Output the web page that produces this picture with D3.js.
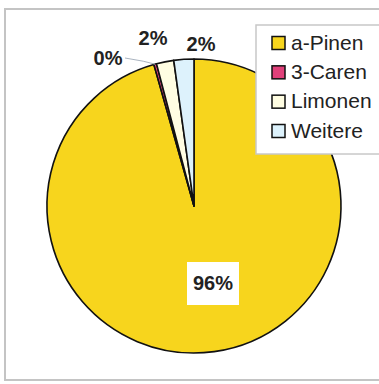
<!DOCTYPE html>
<html>
<head>
<meta charset="utf-8">
<script src="https://cdn.jsdelivr.net/npm/d3@7"></script>
<style>
  html, body { margin: 0; padding: 0; background: #fff; }
  svg { display: block; }
</style>
</head>
<body>
<svg id="chart" width="379" height="384"></svg>
<script>
// Zusammensetzung (Anteile in %)
const categories = ["a-Pinen", "3-Caren", "Limonen", "Weitere"];
const values = [95.6, 0.3, 1.9, 2.2];
const colors = ["#F7D51D", "#E0407A", "#FFFDE2", "#DDF2FC"];

const svg = d3.select("#chart");
const font = "'Liberation Sans', Arial, sans-serif";

// Outer chart frame
svg.append("rect")
  .attr("x", 5).attr("y", 9)
  .attr("width", 380).attr("height", 371)
  .attr("fill", "#fff")
  .attr("stroke", "#c4c4c4").attr("stroke-width", 2);

const cx = 194, cy = 206, r = 147;
const total = d3.sum(values);

// Slices start at 12 o'clock and run clockwise
const pie = d3.pie().sort(null).value(d => d)
  .startAngle(0).endAngle(2 * Math.PI);
const arcs = pie(values);
const arc = d3.arc().innerRadius(0).outerRadius(r);

const g = svg.append("g").attr("transform", `translate(${cx},${cy})`);
g.selectAll("path.slice")
  .data(arcs)
  .join("path")
  .attr("class", "slice")
  .attr("d", arc)
  .attr("fill", (d, i) => colors[i])
  .attr("stroke", "#111")
  .attr("stroke-width", 1.6)
  .attr("stroke-linejoin", "round");

const pct = v => Math.round(v / total * 100) + "%";

// Label of the large slice inside, on a white box
const bigLabel = g.append("g").attr("transform", "translate(19,77)");
bigLabel.append("rect")
  .attr("x", -26).attr("y", -21).attr("width", 52).attr("height", 43)
  .attr("fill", "#fff");
bigLabel.append("text")
  .attr("text-anchor", "middle").attr("dy", "0.35em")
  .attr("font-family", font).attr("font-weight", "bold").attr("font-size", 20)
  .attr("fill", "#222")
  .text(pct(values[0]));

// Labels of the small slices outside the pie
const outsidePos = [null, [-86, -148], [-41, -168], [7, -162]];
const outerArc = d3.arc().innerRadius(r).outerRadius(r);
[1, 2, 3].forEach(i => {
  const [lx, ly] = outsidePos[i];
  if (i === 1) {
    // leader line from the tiny slice to its label
    const p = outerArc.centroid(arcs[i]);
    g.append("path")
      .attr("d", `M${lx + 17},${ly}L${p[0] - 12},${p[1] - 3}L${p[0]},${p[1]}`)
      .attr("fill", "none").attr("stroke", "#aab4c0").attr("stroke-width", 1);
  }
  g.append("text")
    .attr("x", lx).attr("y", ly)
    .attr("text-anchor", "middle").attr("dy", "0.35em")
    .attr("font-family", font).attr("font-weight", "bold").attr("font-size", 20)
    .attr("fill", "#222")
    .text(pct(values[i]));
});

// Legend
const legend = svg.append("g").attr("transform", "translate(256,25)");
legend.append("rect")
  .attr("x", 0).attr("y", 0).attr("width", 130).attr("height", 129)
  .attr("fill", "#fff").attr("stroke", "#c8c8c8").attr("stroke-width", 1.5);
const rowY = d3.scalePoint().domain(categories).range([18, 106]);
const items = legend.selectAll("g.item")
  .data(categories)
  .join("g")
  .attr("class", "item")
  .attr("transform", d => `translate(0,${rowY(d)})`);
items.append("rect")
  .attr("x", 16).attr("y", -6.5).attr("width", 13).attr("height", 13)
  .attr("fill", (d, i) => colors[i])
  .attr("stroke", "#111").attr("stroke-width", 1.5);
items.append("text")
  .attr("x", 35).attr("dy", "0.32em")
  .attr("font-family", font).attr("font-size", 21)
  .attr("fill", "#222")
  .text(d => d);
</script>
</body>
</html>
